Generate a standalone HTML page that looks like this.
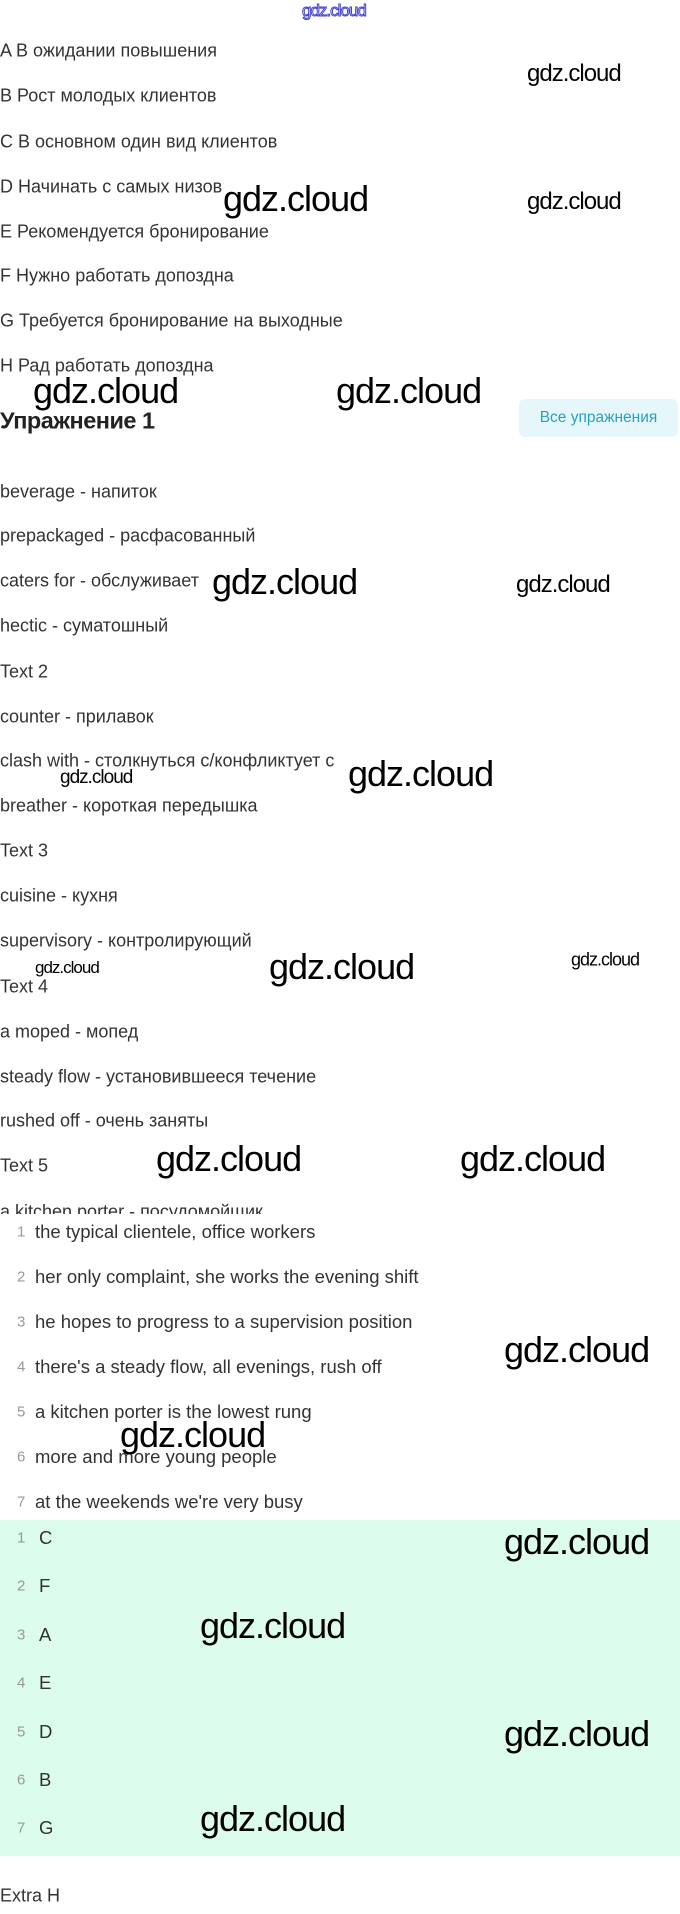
<!DOCTYPE html>
<html><head><meta charset="utf-8"><style>
body{margin:0;width:680px;height:1914px;position:relative;background:#fff;overflow:hidden;font-family:"Liberation Sans","Noto Sans CJK SC",sans-serif;color:#333}
.t{position:absolute;left:0;font-size:18px;transform:translateY(-50%);white-space:nowrap}
.n{position:absolute;left:17px;font-size:15px;color:#999;transform:translateY(-50%)}
.l{position:absolute;left:35px;font-size:18.5px;transform:translateY(-50%);white-space:nowrap}
.w{position:absolute;font-family:"Liberation Sans",sans-serif;color:#000;transform:translateY(-50%);white-space:nowrap;letter-spacing:-1px}
.b{font-size:36px}.s{font-size:24px}.x{font-size:18px}
</style></head><body>
<div class="w" style="left:302px;top:11px;font-size:17px;color:#fff;-webkit-text-stroke:1px #4040d0;letter-spacing:-1px">gdz.cloud</div>
<div class="t" style="top:51px">A В ожидании повышения</div>
<div class="t" style="top:96px">B Рост молодых клиентов</div>
<div class="t" style="top:142px">C В основном один вид клиентов</div>
<div class="t" style="top:187px">D Начинать с самых низов</div>
<div class="t" style="top:232px">E Рекомендуется бронирование</div>
<div class="t" style="top:276px">F Нужно работать допоздна</div>
<div class="t" style="top:321px">G Требуется бронирование на выходные</div>
<div class="t" style="top:366px">H Рад работать допоздна</div>
<div class="t" style="top:421px;font-size:23.5px;font-weight:bold;color:#222;letter-spacing:-0.5px">Упражнение 1</div>
<div style="position:absolute;left:519px;top:399px;width:159px;height:38px;background:#e6f7fb;border-radius:6px;color:#2aa0c0;font-size:15.5px;line-height:38px;text-align:center">Все упражнения</div>
<div class="t" style="top:492px">beverage - напиток</div>
<div class="t" style="top:536px">prepackaged - расфасованный</div>
<div class="t" style="top:581px">caters for - обслуживает</div>
<div class="t" style="top:626px">hectic - суматошный</div>
<div class="t" style="top:672px">Text 2</div>
<div class="t" style="top:717px">counter - прилавок</div>
<div class="t" style="top:761px">clash with - столкнуться с/конфликтует с</div>
<div class="t" style="top:806px">breather - короткая передышка</div>
<div class="t" style="top:851px">Text 3</div>
<div class="t" style="top:896px">cuisine - кухня</div>
<div class="t" style="top:941px">supervisory - контролирующий</div>
<div class="t" style="top:987px">Text 4</div>
<div class="t" style="top:1032px">a moped - мопед</div>
<div class="t" style="top:1077px">steady flow - установившееся течение</div>
<div class="t" style="top:1121px">rushed off - очень заняты</div>
<div class="t" style="top:1166px">Text 5</div>
<div class="t" style="top:1212px">a kitchen porter - посудомойщик</div>
<div style="position:absolute;left:0;top:1214px;width:680px;height:306px;background:#fff"></div>
<div class="n" style="top:1232px">1</div><div class="l" style="top:1232px">the typical clientele, office workers</div>
<div class="n" style="top:1277px">2</div><div class="l" style="top:1277px">her only complaint, she works the evening shift</div>
<div class="n" style="top:1322px">3</div><div class="l" style="top:1322px">he hopes to progress to a supervision position</div>
<div class="n" style="top:1367px">4</div><div class="l" style="top:1367px">there's a steady flow, all evenings, rush off</div>
<div class="n" style="top:1412px">5</div><div class="l" style="top:1412px">a kitchen porter is the lowest rung</div>
<div class="n" style="top:1457px">6</div><div class="l" style="top:1457px">more and more young people</div>
<div class="n" style="top:1502px">7</div><div class="l" style="top:1502px">at the weekends we're very busy</div>
<div style="position:absolute;left:0;top:1520px;width:680px;height:336px;background:#dcfcec"></div>
<div class="n" style="top:1538px">1</div><div class="l" style="top:1538px;left:39px">C</div>
<div class="n" style="top:1586px">2</div><div class="l" style="top:1586px;left:39px">F</div>
<div class="n" style="top:1635px">3</div><div class="l" style="top:1635px;left:39px">A</div>
<div class="n" style="top:1683px">4</div><div class="l" style="top:1683px;left:39px">E</div>
<div class="n" style="top:1732px">5</div><div class="l" style="top:1732px;left:39px">D</div>
<div class="n" style="top:1780px">6</div><div class="l" style="top:1780px;left:39px">B</div>
<div class="n" style="top:1828px">7</div><div class="l" style="top:1828px;left:39px">G</div>
<div class="t" style="top:1896px">Extra H</div>

<div class="w s" style="left:527px;top:74px">gdz.cloud</div>
<div class="w b" style="left:223px;top:199px">gdz.cloud</div>
<div class="w s" style="left:527px;top:202px">gdz.cloud</div>
<div class="w b" style="left:33px;top:391px">gdz.cloud</div>
<div class="w b" style="left:336px;top:391px">gdz.cloud</div>
<div class="w b" style="left:212px;top:582px">gdz.cloud</div>
<div class="w s" style="left:516px;top:585px">gdz.cloud</div>
<div class="w b" style="left:348px;top:774px">gdz.cloud</div>
<div class="w x" style="left:60px;top:778px;font-size:19px">gdz.cloud</div>
<div class="w b" style="left:269px;top:967px">gdz.cloud</div>
<div class="w x" style="left:35px;top:968px;font-size:17px">gdz.cloud</div>
<div class="w x" style="left:571px;top:960px;font-size:18px">gdz.cloud</div>
<div class="w b" style="left:156px;top:1159px">gdz.cloud</div>
<div class="w b" style="left:460px;top:1159px">gdz.cloud</div>
<div class="w b" style="left:504px;top:1350px">gdz.cloud</div>
<div class="w b" style="left:120px;top:1435px">gdz.cloud</div>
<div class="w b" style="left:504px;top:1542px">gdz.cloud</div>
<div class="w b" style="left:200px;top:1626px">gdz.cloud</div>
<div class="w b" style="left:504px;top:1734px">gdz.cloud</div>
<div class="w b" style="left:200px;top:1819px">gdz.cloud</div>
</body></html>
